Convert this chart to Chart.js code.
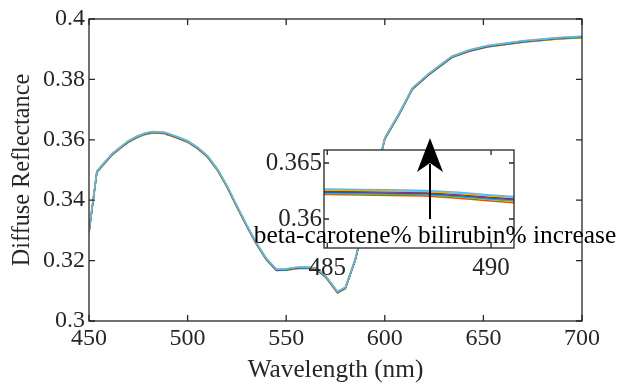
<!DOCTYPE html>
<html>
<head>
<meta charset="utf-8">
<script src="https://cdn.jsdelivr.net/npm/chart.js@4/dist/chart.umd.min.js"></script>
<style>
  html, body { margin: 0; padding: 0; background: #ffffff; }
  #wrap { position: relative; width: 622px; height: 387px; }
  canvas { position: absolute; left: 0; top: 0; }
</style>
</head>
<body>
<div id="wrap">
  <canvas id="main" width="622" height="387"></canvas>
  <canvas id="inset" width="622" height="387"></canvas>
</div>
<script>
// ---------- data ----------
const wavelengths = [450,454,458,462,466,470,474,478,482,485,486,487,488,489,490,491,495,500,505,510,515,520,525,530,535,540,545,550,555,560,565,570,576,580,585,590,595,600,607,614,622,634,643,652,670,688,700];

const seriesLightBlue = [0.32980,0.34970,0.35270,0.35560,0.35770,0.35970,0.36110,0.36220,0.36275,0.36268,0.36264,0.36260,0.36255,0.36238,0.36215,0.36195,0.36100,0.35970,0.35760,0.35480,0.35050,0.34480,0.33820,0.33180,0.32580,0.32070,0.31720,0.31730,0.31780,0.31800,0.31760,0.31500,0.30980,0.31120,0.32050,0.33400,0.34700,0.36070,0.36850,0.37720,0.38180,0.38770,0.38980,0.39120,0.39280,0.39390,0.39430];
const seriesYellow = [0.32970,0.34960,0.35260,0.35550,0.35760,0.35960,0.36100,0.36210,0.36265,0.36258,0.36254,0.36250,0.36245,0.36228,0.36205,0.36185,0.36090,0.35960,0.35750,0.35470,0.35040,0.34470,0.33810,0.33170,0.32570,0.32060,0.31710,0.31720,0.31770,0.31790,0.31750,0.31490,0.30970,0.31110,0.32040,0.33390,0.34690,0.36060,0.36840,0.37710,0.38170,0.38760,0.38970,0.39110,0.39270,0.39380,0.39420];
const seriesPurple = [0.32960,0.34950,0.35250,0.35540,0.35750,0.35950,0.36090,0.36200,0.36255,0.36248,0.36244,0.36240,0.36235,0.36218,0.36195,0.36175,0.36080,0.35950,0.35740,0.35460,0.35030,0.34460,0.33800,0.33160,0.32560,0.32050,0.31700,0.31710,0.31760,0.31780,0.31740,0.31480,0.30960,0.31100,0.32030,0.33380,0.34680,0.36050,0.36830,0.37700,0.38160,0.38750,0.38960,0.39100,0.39260,0.39370,0.39410];
const seriesBlue = [0.32950,0.34940,0.35240,0.35530,0.35740,0.35940,0.36080,0.36190,0.36245,0.36238,0.36234,0.36230,0.36225,0.36208,0.36185,0.36165,0.36070,0.35940,0.35730,0.35450,0.35020,0.34450,0.33790,0.33150,0.32550,0.32040,0.31690,0.31700,0.31750,0.31770,0.31730,0.31470,0.30950,0.31090,0.32020,0.33370,0.34670,0.36040,0.36820,0.37690,0.38150,0.38740,0.38950,0.39090,0.39250,0.39360,0.39400];
const seriesGreen = [0.32940,0.34930,0.35230,0.35520,0.35730,0.35930,0.36070,0.36180,0.36235,0.36228,0.36224,0.36220,0.36215,0.36198,0.36175,0.36155,0.36060,0.35930,0.35720,0.35440,0.35010,0.34440,0.33780,0.33140,0.32540,0.32030,0.31680,0.31690,0.31740,0.31760,0.31720,0.31460,0.30940,0.31080,0.32010,0.33360,0.34660,0.36030,0.36810,0.37680,0.38140,0.38730,0.38940,0.39080,0.39240,0.39350,0.39390];
const seriesOrange = [0.32930,0.34920,0.35220,0.35510,0.35720,0.35920,0.36060,0.36170,0.36225,0.36218,0.36214,0.36210,0.36205,0.36185,0.36160,0.36140,0.36050,0.35920,0.35710,0.35430,0.35000,0.34430,0.33770,0.33130,0.32530,0.32020,0.31670,0.31680,0.31730,0.31750,0.31710,0.31450,0.30930,0.31070,0.32000,0.33350,0.34650,0.36020,0.36800,0.37670,0.38130,0.38720,0.38930,0.39070,0.39230,0.39340,0.39380];

const xTicks = [450, 500, 550, 600, 650, 700];
const yTicks = [0.3, 0.32, 0.34, 0.36, 0.38, 0.4];
const insetXTicks = [485, 490];
const insetYTicks = [0.36, 0.365];

const xTitle = 'Wavelength (nm)';
const yTitle = 'Diffuse Reflectance';
const annotationText = 'beta-carotene% bilirubin% increase';

// ---------- styling ----------
const seriesList = [
  { values: seriesLightBlue, color: '#4DBEEE' },
  { values: seriesYellow,    color: '#EDB120' },
  { values: seriesPurple,    color: '#7E2F8E' },
  { values: seriesBlue,      color: '#0072BD' },
  { values: seriesGreen,     color: '#77AC30' },
  { values: seriesOrange,    color: '#D95319' }
];
const FONT_FAMILY = '"Liberation Serif", "Times New Roman", serif';
const AXIS_COLOR = '#262626';

function makeDatasets() {
  return seriesList.map(s => ({
    data: wavelengths.map((w, i) => ({ x: w, y: s.values[i] })),
    borderColor: s.color,
    borderWidth: 1.5,
    pointRadius: 0,
    tension: 0,
    fill: false
  }));
}
const fmt = v => String(+Number(v).toFixed(4));

const whiteBg = {
  id: 'whiteBg',
  beforeDraw(chart, args, opts) {
    const ctx = chart.ctx;
    ctx.save();
    ctx.fillStyle = '#ffffff';
    if (opts.areaOnly) {
      const a = chart.chartArea;
      ctx.fillRect(a.left, a.top, a.right - a.left, a.bottom - a.top);
    } else {
      ctx.fillRect(0, 0, chart.width, chart.height);
    }
    ctx.restore();
  }
};

const boxTicks = {
  id: 'boxTicks',
  afterDatasetsDraw(chart, args, opts) {
    const { ctx, chartArea: a } = chart;
    const x = chart.scales.x, y = chart.scales.y;
    const L = opts.len || 5;
    ctx.save();
    ctx.strokeStyle = AXIS_COLOR;
    ctx.lineWidth = 1.3;
    ctx.beginPath();
    x.ticks.forEach(t => {
      const px = x.getPixelForValue(t.value);
      ctx.moveTo(px, a.bottom); ctx.lineTo(px, a.bottom - L);
      ctx.moveTo(px, a.top); ctx.lineTo(px, a.top + L);
    });
    y.ticks.forEach(t => {
      const py = y.getPixelForValue(t.value);
      ctx.moveTo(a.left, py); ctx.lineTo(a.left + L, py);
      ctx.moveTo(a.right, py); ctx.lineTo(a.right - L, py);
    });
    ctx.stroke();
    ctx.strokeRect(a.left, a.top, a.right - a.left, a.bottom - a.top);
    ctx.restore();
  }
};

const arrowAnnotation = {
  id: 'arrowAnnotation',
  afterDraw(chart) {
    const ctx = chart.ctx;
    ctx.save();
    ctx.strokeStyle = '#000000';
    ctx.fillStyle = '#000000';
    ctx.lineWidth = 2;
    ctx.beginPath();
    ctx.moveTo(430, 219); ctx.lineTo(430, 164);
    ctx.stroke();
    ctx.beginPath();
    ctx.moveTo(430, 138);
    ctx.lineTo(443, 172);
    ctx.lineTo(430, 163);
    ctx.lineTo(417, 172);
    ctx.closePath();
    ctx.fill();
    ctx.font = '25.4px ' + FONT_FAMILY;
    ctx.textAlign = 'center';
    ctx.textBaseline = 'alphabetic';
    ctx.fillText(annotationText, 435, 243);
    ctx.restore();
  }
};

const tickFont = { family: FONT_FAMILY, size: 24 };
const insetTickFont = { family: FONT_FAMILY, size: 25 };
const xTitleFont = { family: FONT_FAMILY, size: 25.3 };
const yTitleFont = { family: FONT_FAMILY, size: 24.2 };

// ---------- main chart ----------
new Chart(document.getElementById('main'), {
  type: 'line',
  data: { datasets: makeDatasets() },
  options: {
    responsive: false,
    animation: false,
    devicePixelRatio: 1,
    layout: { padding: { top: 19, right: 40, left: 0, bottom: 0 } },
    plugins: { legend: { display: false }, tooltip: { enabled: false }, boxTicks: { len: 6 } },
    scales: {
      x: {
        type: 'linear', min: 450, max: 700,
        afterFit: s => { s.height = 66; },
        afterBuildTicks: s => { s.ticks = xTicks.map(v => ({ value: v })); },
        grid: { display: false, drawTicks: false },
        border: { display: false },
        ticks: { font: tickFont, color: AXIS_COLOR, padding: 3, maxRotation: 0, autoSkip: false, callback: fmt },
        title: { display: true, text: xTitle, font: xTitleFont, color: AXIS_COLOR, padding: { top: 0, bottom: 1 } }
      },
      y: {
        type: 'linear', min: 0.3, max: 0.4,
        afterFit: s => { s.width = 89; },
        afterBuildTicks: s => { s.ticks = yTicks.map(v => ({ value: v })); },
        grid: { display: false, drawTicks: false },
        border: { display: false },
        ticks: { font: tickFont, color: AXIS_COLOR, padding: 4, autoSkip: false, callback: fmt },
        title: { display: true, text: yTitle, font: yTitleFont, color: AXIS_COLOR, padding: { top: 8, bottom: 0 } }
      }
    }
  },
  plugins: [whiteBg, boxTicks]
});

// ---------- inset chart ----------
new Chart(document.getElementById('inset'), {
  type: 'line',
  data: { datasets: makeDatasets() },
  options: {
    responsive: false,
    animation: false,
    devicePixelRatio: 1,
    layout: { padding: { top: 150, right: 108, left: 264, bottom: 99 } },
    plugins: { legend: { display: false }, tooltip: { enabled: false }, whiteBg: { areaOnly: true }, boxTicks: { len: 5 } },
    scales: {
      x: {
        type: 'linear', min: 484.9, max: 490.7,
        afterFit: s => { s.height = 40; },
        afterBuildTicks: s => { s.ticks = insetXTicks.map(v => ({ value: v })); },
        grid: { display: false, drawTicks: false },
        border: { display: false },
        ticks: { font: insetTickFont, color: AXIS_COLOR, padding: 5, maxRotation: 0, autoSkip: false, callback: fmt }
      },
      y: {
        type: 'linear', min: 0.35741, max: 0.36616,
        afterFit: s => { s.width = 60; },
        afterBuildTicks: s => { s.ticks = insetYTicks.map(v => ({ value: v })); },
        grid: { display: false, drawTicks: false },
        border: { display: false },
        ticks: { font: insetTickFont, color: AXIS_COLOR, padding: 2, autoSkip: false, callback: fmt }
      }
    }
  },
  plugins: [whiteBg, boxTicks, arrowAnnotation]
});
</script>
</body>
</html>
